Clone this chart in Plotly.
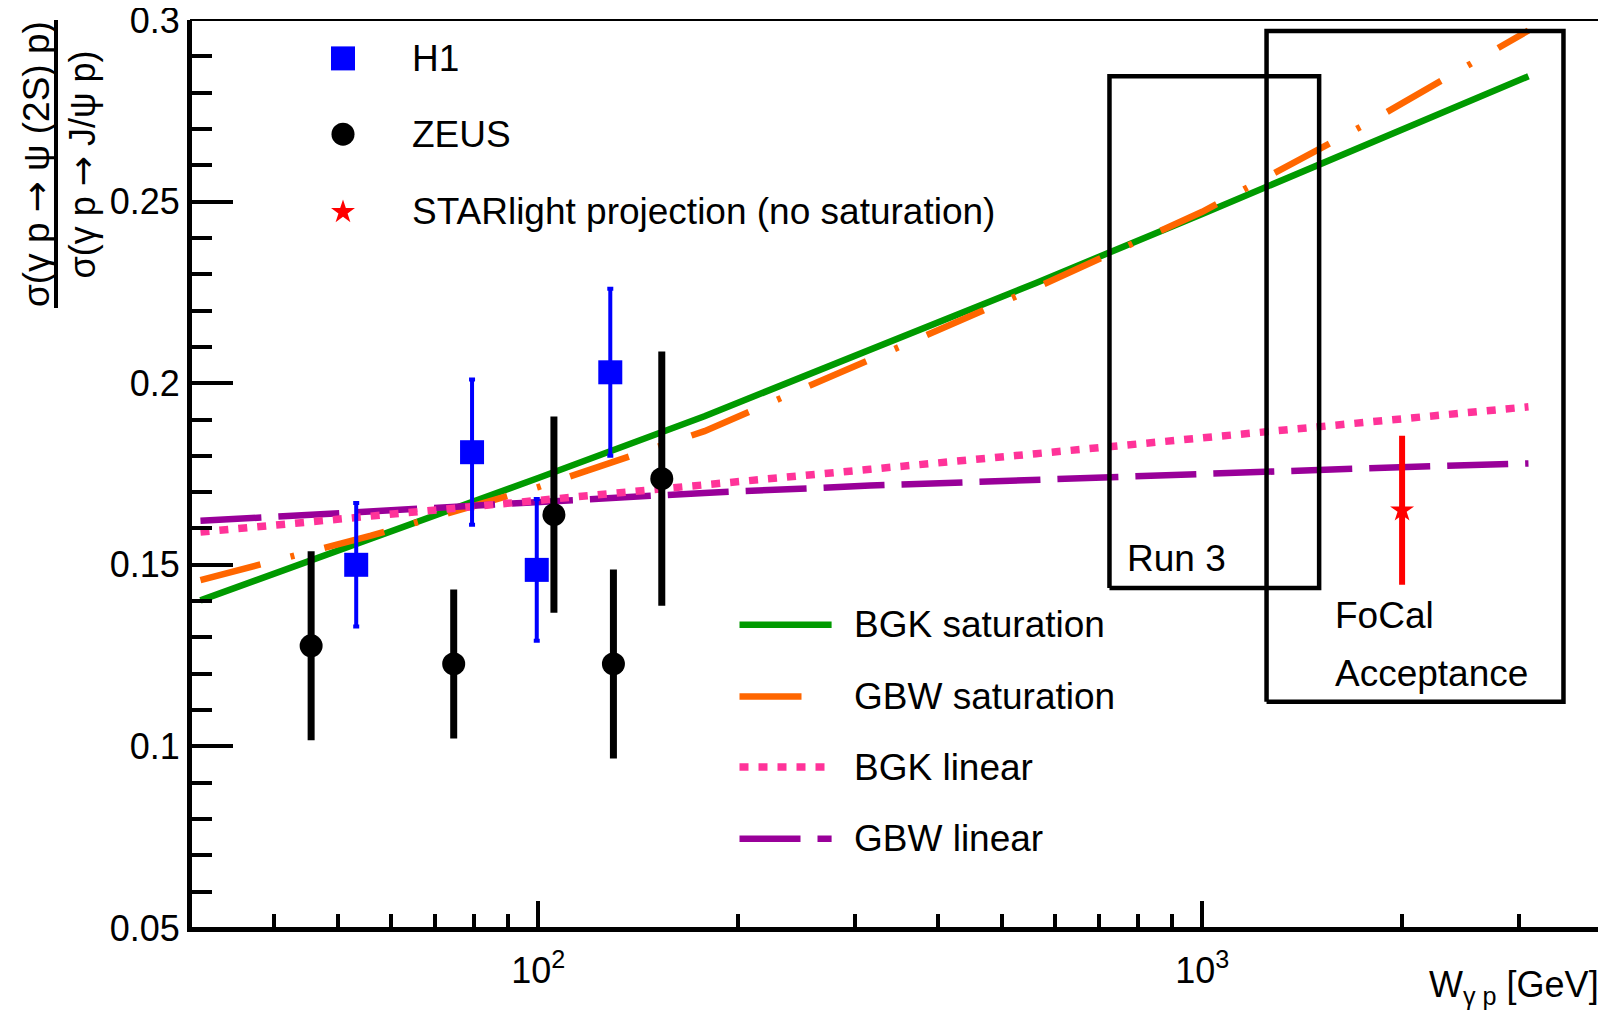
import plotly.graph_objects as go

# ---------------- data ----------------
h1_W = [53.2, 79.5, 99.5, 128.4]
h1_ratio = [0.150, 0.181, 0.1486, 0.203]
h1_err = [0.017, 0.020, 0.0195, 0.023]

zeus_W = [45.5, 74.6, 105.6, 129.8, 153.5]
zeus_ratio = [0.1277, 0.1227, 0.1638, 0.1227, 0.1737]
zeus_err = [0.026, 0.0205, 0.027, 0.026, 0.035]

starlight_W = [2000]
starlight_ratio = [0.165]
starlight_err = [0.0205]

model_W = [31, 56, 100, 178, 316, 562, 1000, 1778, 3100]
bgk_sat = [0.1402, 0.1570, 0.1739, 0.1909, 0.2093, 0.2276, 0.2466, 0.2659, 0.2845]
gbw_sat = [0.1458, 0.1580, 0.1714, 0.1868, 0.2065, 0.2263, 0.2472, 0.2717, 0.2971]
bgk_lin = [0.1590, 0.1633, 0.1677, 0.1720, 0.1763, 0.1806, 0.1850, 0.1893, 0.1935]
gbw_lin = [0.1621, 0.1647, 0.1673, 0.1698, 0.1718, 0.1735, 0.1751, 0.1766, 0.1779]

run3_W = [725, 1500]
run3_ratio = [0.1436, 0.2845]
focal_W = [1250, 3500]
focal_ratio = [0.1123, 0.297]

x_tickvals = [100, 1000]
x_ticktext = ["10<sup>2</sup>", "10<sup>3</sup>"]
x_minor = [40, 50, 60, 70, 80, 90, 200, 300, 400, 500, 600, 700, 800, 900, 2000, 3000]
y_tickvals = [0.05, 0.1, 0.15, 0.2, 0.25, 0.3]
y_ticktext = ["0.05", "0.1", "0.15", "0.2", "0.25", "0.3"]

# ---------------- style ----------------
FONT = "Liberation Sans, Arial, Helvetica, sans-serif"
FS = 36
FS_TXT = 37
GREEN = "#009a00"
ORANGE = "#ff6600"
PINK = "#ff3399"
PURPLE = "#990099"
BLUE = "#0000ff"
RED = "#ff0000"

# page body has an 8px default margin; figure is placed at (8, 8) in the window
OFF = 8
W_PX, H_PX = 1598, 1003
L, T = 183, 12
PW, PH = 1411, 908
R = W_PX - L - PW
B = H_PX - T - PH


def px(xw):
    """window pixel x -> plot-area fraction"""
    return (xw - OFF - L) / PW


def py(yw):
    """window pixel y -> plot-area fraction"""
    return (T + PH - (yw - OFF)) / PH


fig = go.Figure()

# model curves
fig.add_trace(go.Scatter(x=model_W, y=bgk_sat, mode="lines",
                         line=dict(color=GREEN, width=6.5)))
fig.add_trace(go.Scatter(x=model_W, y=gbw_sat, mode="lines",
                         line=dict(color=ORANGE, width=6.5, dash="62px,31px,4px,31px")))
fig.add_trace(go.Scatter(x=model_W, y=gbw_lin, mode="lines",
                         line=dict(color=PURPLE, width=6.5, dash="61px,17px")))
fig.add_trace(go.Scatter(x=model_W, y=bgk_lin, mode="lines",
                         line=dict(color=PINK, width=7.5, dash="9px,10px")))

# boxes
for bw, br in [(run3_W, run3_ratio), (focal_W, focal_ratio)]:
    fig.add_trace(go.Scatter(
        x=[bw[0], bw[1], bw[1], bw[0], bw[0]],
        y=[br[0], br[0], br[1], br[1], br[0]],
        mode="lines", line=dict(color="black", width=4.5)))

# data
fig.add_trace(go.Scatter(x=zeus_W, y=zeus_ratio, mode="markers",
                         marker=dict(symbol="circle", size=23, color="black"),
                         error_y=dict(type="data", array=zeus_err, color="black",
                                      thickness=7, width=0)))
fig.add_trace(go.Scatter(x=h1_W, y=h1_ratio, mode="markers",
                         marker=dict(symbol="square", size=24, color=BLUE),
                         error_y=dict(type="data", array=h1_err, color=BLUE,
                                      thickness=4, width=3)))
fig.add_trace(go.Scatter(x=starlight_W, y=starlight_ratio, mode="markers",
                         marker=dict(symbol="star", size=18, color=RED),
                         error_y=dict(type="data", array=starlight_err, color=RED,
                                      thickness=6, width=0)))

# ---------------- legend samples (overlay axes in plot-fraction units) ----------------
leg1 = [("H1", "square", 24, BLUE, 58.4),
        ("ZEUS", "circle", 23, "black", 134.2),
        ("STARlight projection (no saturation)", "star", 18, RED, 212.0)]
for name, sym, size, col, yy in leg1:
    fig.add_trace(go.Scatter(x=[px(343)], y=[py(yy)], mode="markers",
                             marker=dict(symbol=sym, size=size, color=col),
                             xaxis="x2", yaxis="y2"))

leg2 = [("BGK saturation", GREEN, "solid", 6.5, 624.8),
        ("GBW saturation", ORANGE, "62px,31px,4px,31px", 6.5, 696.5),
        ("BGK linear", PINK, "9px,10px", 7.5, 767.1),
        ("GBW linear", PURPLE, "61px,17px", 6.5, 838.8)]
for name, col, dash, lw, yy in leg2:
    fig.add_trace(go.Scatter(x=[px(739.5), px(831.6)], y=[py(yy), py(yy)], mode="lines",
                             line=dict(color=col, width=lw, dash=dash),
                             xaxis="x2", yaxis="y2"))

annotations = []
for name, sym, size, col, yy in leg1:
    annotations.append(dict(text=name, x=px(409.7), y=py(yy), xref="paper", yref="paper",
                            xanchor="left", yanchor="middle", showarrow=False,
                            font=dict(family=FONT, size=FS_TXT, color="black")))
for name, col, dash, lw, yy in leg2:
    annotations.append(dict(text=name, x=px(852), y=py(yy), xref="paper", yref="paper",
                            xanchor="left", yanchor="middle", showarrow=False,
                            font=dict(family=FONT, size=FS_TXT, color="black")))

for txt, xx, yy in [("Run 3", 1124.6, 558), ("FoCal", 1332.5, 615.5), ("Acceptance", 1332.5, 673)]:
    annotations.append(dict(text=txt, x=px(xx), y=py(yy), xref="paper", yref="paper",
                            xanchor="left", yanchor="middle", showarrow=False,
                            font=dict(family=FONT, size=FS_TXT, color="black")))

# axis titles
ARROW = '<span style="font-family:DejaVu Sans">→</span>'
annotations.append(dict(text=f"σ(γ p {ARROW} ψ (2S) p)", x=px(36), y=py(164), xref="paper", yref="paper",
                        textangle=-90, xanchor="center", yanchor="middle", showarrow=False,
                        font=dict(family=FONT, size=37, color="black")))
annotations.append(dict(text=f"σ(γ p {ARROW} J/ψ p)", x=px(82), y=py(164.5), xref="paper", yref="paper",
                        textangle=-90, xanchor="center", yanchor="middle", showarrow=False,
                        font=dict(family=FONT, size=36, color="black")))
annotations.append(dict(text="W<sub>γ p</sub> [GeV]", x=px(1601), y=py(987), xref="paper", yref="paper",
                        xanchor="right", yanchor="middle", showarrow=False,
                        font=dict(family=FONT, size=FS, color="black")))

shapes = [
    dict(type="rect", xref="paper", yref="paper", x0=0, x1=1, y0=0, y1=1,
         line=dict(color="black", width=2), layer="above"),
    dict(type="line", xref="paper", yref="paper", x0=px(56), x1=px(56), y0=py(20), y1=py(308),
         line=dict(color="black", width=4)),
]

fig.update_layout(
    width=W_PX, height=H_PX,
    margin=dict(l=L, r=R, t=T, b=B, autoexpand=False),
    paper_bgcolor="white", plot_bgcolor="white",
    showlegend=False,
    font=dict(family=FONT, size=FS, color="black"),
    annotations=annotations,
    shapes=shapes,
    xaxis=dict(type="log", range=[1.4771, 3.6021], showgrid=False, zeroline=False,
               showline=True, linewidth=4, linecolor="black", mirror=False,
               ticks="inside", ticklen=27, tickwidth=4, tickcolor="black",
               tickmode="array", tickvals=x_tickvals, ticktext=x_ticktext,
               ticklabelstandoff=8, ticklabeloverflow="allow",
               tickfont=dict(family=FONT, size=FS, color="black"),
               minor=dict(tickmode="array", tickvals=x_minor, ticks="inside", ticklen=14,
                          tickwidth=4, tickcolor="black", showgrid=False)),
    yaxis=dict(range=[0.0499999, 0.3000001], showgrid=False, zeroline=False,
               showline=True, linewidth=4, linecolor="black", mirror=False,
               ticks="inside", ticklen=42, tickwidth=4, tickcolor="black",
               tickmode="array", tickvals=y_tickvals, ticktext=y_ticktext,
               ticklabeloverflow="allow",
               tickfont=dict(family=FONT, size=FS, color="black"),
               minor=dict(dtick=0.01, tick0=0.05, ticks="inside", ticklen=21,
                          tickwidth=4, tickcolor="black", showgrid=False)),
    xaxis2=dict(overlaying="x", anchor="y2", range=[0, 1], visible=False, fixedrange=True),
    yaxis2=dict(overlaying="y", anchor="x2", range=[0, 1], visible=False, fixedrange=True),
)

fig.write_html("out.html")
